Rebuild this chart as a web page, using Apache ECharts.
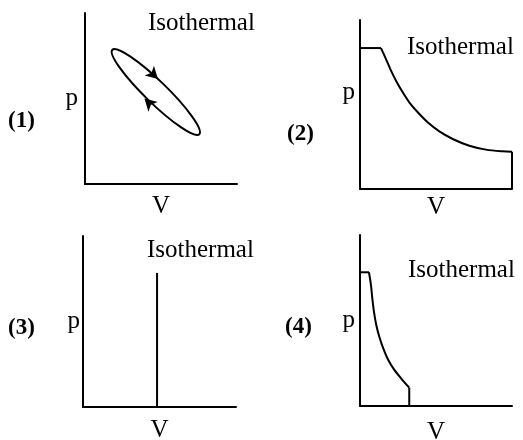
<!DOCTYPE html>
<html>
<head>
<meta charset="utf-8">
<script src="https://cdn.jsdelivr.net/npm/echarts@6/dist/echarts.min.js"></script>
<style>
html, body { margin: 0; padding: 0; background: #fff; }
#main { width: 523px; height: 440px; }
</style>
</head>
<body>
<div id="main"></div>
<script>
// values are [V, p] in arbitrary units (0..100 on both axes)
var panel_labels = ["(1)", "(2)", "(3)", "(4)"];
var curve_title = "Isothermal";

// (1) closed loop: the two ends of its long axis and a point on its side
var loop1_axis = [[18.0,78.5],[75.2,29.1]];
var loop1_side = [51.6,58.4];
var arrows1 = [[48.0,61.4,-134],[39.1,50.0,46]];   // V, p, direction

// (2)
var top2 = [[0,83.4],[13.8,83.4]];
var curve2 = [[13.8,83.4],[17.1,76.9],[20.4,70.0],[23.7,64.1],[28.1,57.2],[32.4,51.3],[38.0,45.4],
    [44.5,39.5],[52.2,34.1],[61.0,29.6],[71.9,25.6],[82.9,23.3],[93.9,22.3],[100,22.1]];
var end2 = [[100,22.1],[100,0]];

// (3)
var line3 = [[48.4,0],[48.4,78.4]];

// (4)
var top4 = [[0,78.2],[5.9,78.2]];
var curve4 = [[5.9,78.2],[7.2,70.8],[8.1,63.0],[9.2,55.1],[10.7,47.4],[12.7,40.5],[15.3,33.7],
    [18.6,26.9],[22.6,21.1],[27.0,16.2],[32.4,10.7]];
var end4 = [[32.4,10.7],[32.4,0]];

var font = "Liberation Serif";
var grids = [
    {left: 85, top: 13, width: 152, height: 171, outerBoundsMode: 'none'},
    {left: 360, top: 20, width: 152, height: 169, outerBoundsMode: 'none'},
    {left: 83, top: 236, width: 153, height: 171, outerBoundsMode: 'none'},
    {left: 360, top: 235, width: 152, height: 171, outerBoundsMode: 'none'}
];
var v_gap = [10, 6, 11, 14];
var p_gap = [7, 5, 3, 5];
var p_valign = ['middle', 'bottom', 'middle', 'middle'];
var title_pos = [[148, 25], [407, 49], [147, 252], [408, 272]];
var label_pos = [[8, 123], [287, 136], [8, 330], [285, 329]];

function makeAxis(i, name, gap, isY){
    return {
        type: 'value',
        gridIndex: i,
        position: isY ? 'left' : 'bottom',
        min: 0,
        max: 100,
        name: name,
        nameLocation: 'middle',
        nameGap: gap,
        nameRotate: 0,
        nameTextStyle: isY ?
            {fontFamily: font, fontSize: 25, color: '#000', verticalAlign: p_valign[i]} :
            {fontFamily: font, fontSize: 25, color: '#000'},
        axisLine: {show: true, onZero: false, lineStyle: {color: '#000', width: 2}},
        axisTick: {show: false},
        axisLabel: {show: false},
        splitLine: {show: false}
    };
}

function lineSeries(i, data, smooth){
    return {
        type: 'line',
        xAxisIndex: i,
        yAxisIndex: i,
        data: data,
        smooth: smooth,
        showSymbol: false,
        silent: true,
        lineStyle: {color: '#000', width: 2}
    };
}

// ellipse through the loop's axis ends, width taken from the side point
function renderLoop(params, api){
    var a = api.coord(loop1_axis[0]);
    var b = api.coord(loop1_axis[1]);
    var s = api.coord(loop1_side);
    var cx = (a[0] + b[0]) / 2;
    var cy = (a[1] + b[1]) / 2;
    var rx = Math.sqrt((b[0]-a[0])*(b[0]-a[0]) + (b[1]-a[1])*(b[1]-a[1])) / 2;
    var ry = Math.sqrt((s[0]-cx)*(s[0]-cx) + (s[1]-cy)*(s[1]-cy));
    var angle = Math.atan2(b[1]-a[1], b[0]-a[0]);
    return {
        type: 'ellipse',
        x: cx,
        y: cy,
        rotation: -angle,
        shape: {cx: 0, cy: 0, rx: rx, ry: ry},
        style: {fill: 'none', stroke: '#000', lineWidth: 2}
    };
}

function initChart(){
    var chart = echarts.init(document.getElementById('main'), null, {renderer: 'canvas'});
    var xAxis = [], yAxis = [], graphic = [];
    for(var i=0 ; i<4 ; i++){
        xAxis.push(makeAxis(i, 'V', v_gap[i], false));
        yAxis.push(makeAxis(i, 'p', p_gap[i], true));
        graphic.push({
            type: 'text', left: title_pos[i][0], top: title_pos[i][1] - 14,
            style: {text: curve_title, fontFamily: font, fontSize: 25, fill: '#000'}
        });
        graphic.push({
            type: 'text', left: label_pos[i][0], top: label_pos[i][1] - 13,
            style: {text: panel_labels[i], fontFamily: font, fontSize: 23, fontWeight: 'bold', fill: '#000'}
        });
    }
    var arrow_data = [];
    for(var j=0 ; j<arrows1.length ; j++){
        arrow_data.push({value: [arrows1[j][0], arrows1[j][1]], symbolRotate: arrows1[j][2]});
    }
    var series = [
        {
            type: 'custom', xAxisIndex: 0, yAxisIndex: 0, silent: true,
            renderItem: renderLoop,
            encode: {x: 0, y: 1},
            data: [loop1_side]
        },
        {
            type: 'scatter', xAxisIndex: 0, yAxisIndex: 0, silent: true,
            symbol: 'arrow', symbolSize: [10, 12],
            itemStyle: {color: '#000', opacity: 1},
            data: arrow_data
        },
        lineSeries(1, top2, false),
        lineSeries(1, curve2, 0.3),
        lineSeries(1, end2, false),
        lineSeries(2, line3, false),
        lineSeries(3, top4, false),
        lineSeries(3, curve4, 0.3),
        lineSeries(3, end4, false)
    ];
    chart.setOption({
        animation: false,
        backgroundColor: '#fff',
        grid: grids,
        xAxis: xAxis,
        yAxis: yAxis,
        graphic: graphic,
        series: series
    });
    return chart;
}
initChart();
</script>
</body>
</html>
